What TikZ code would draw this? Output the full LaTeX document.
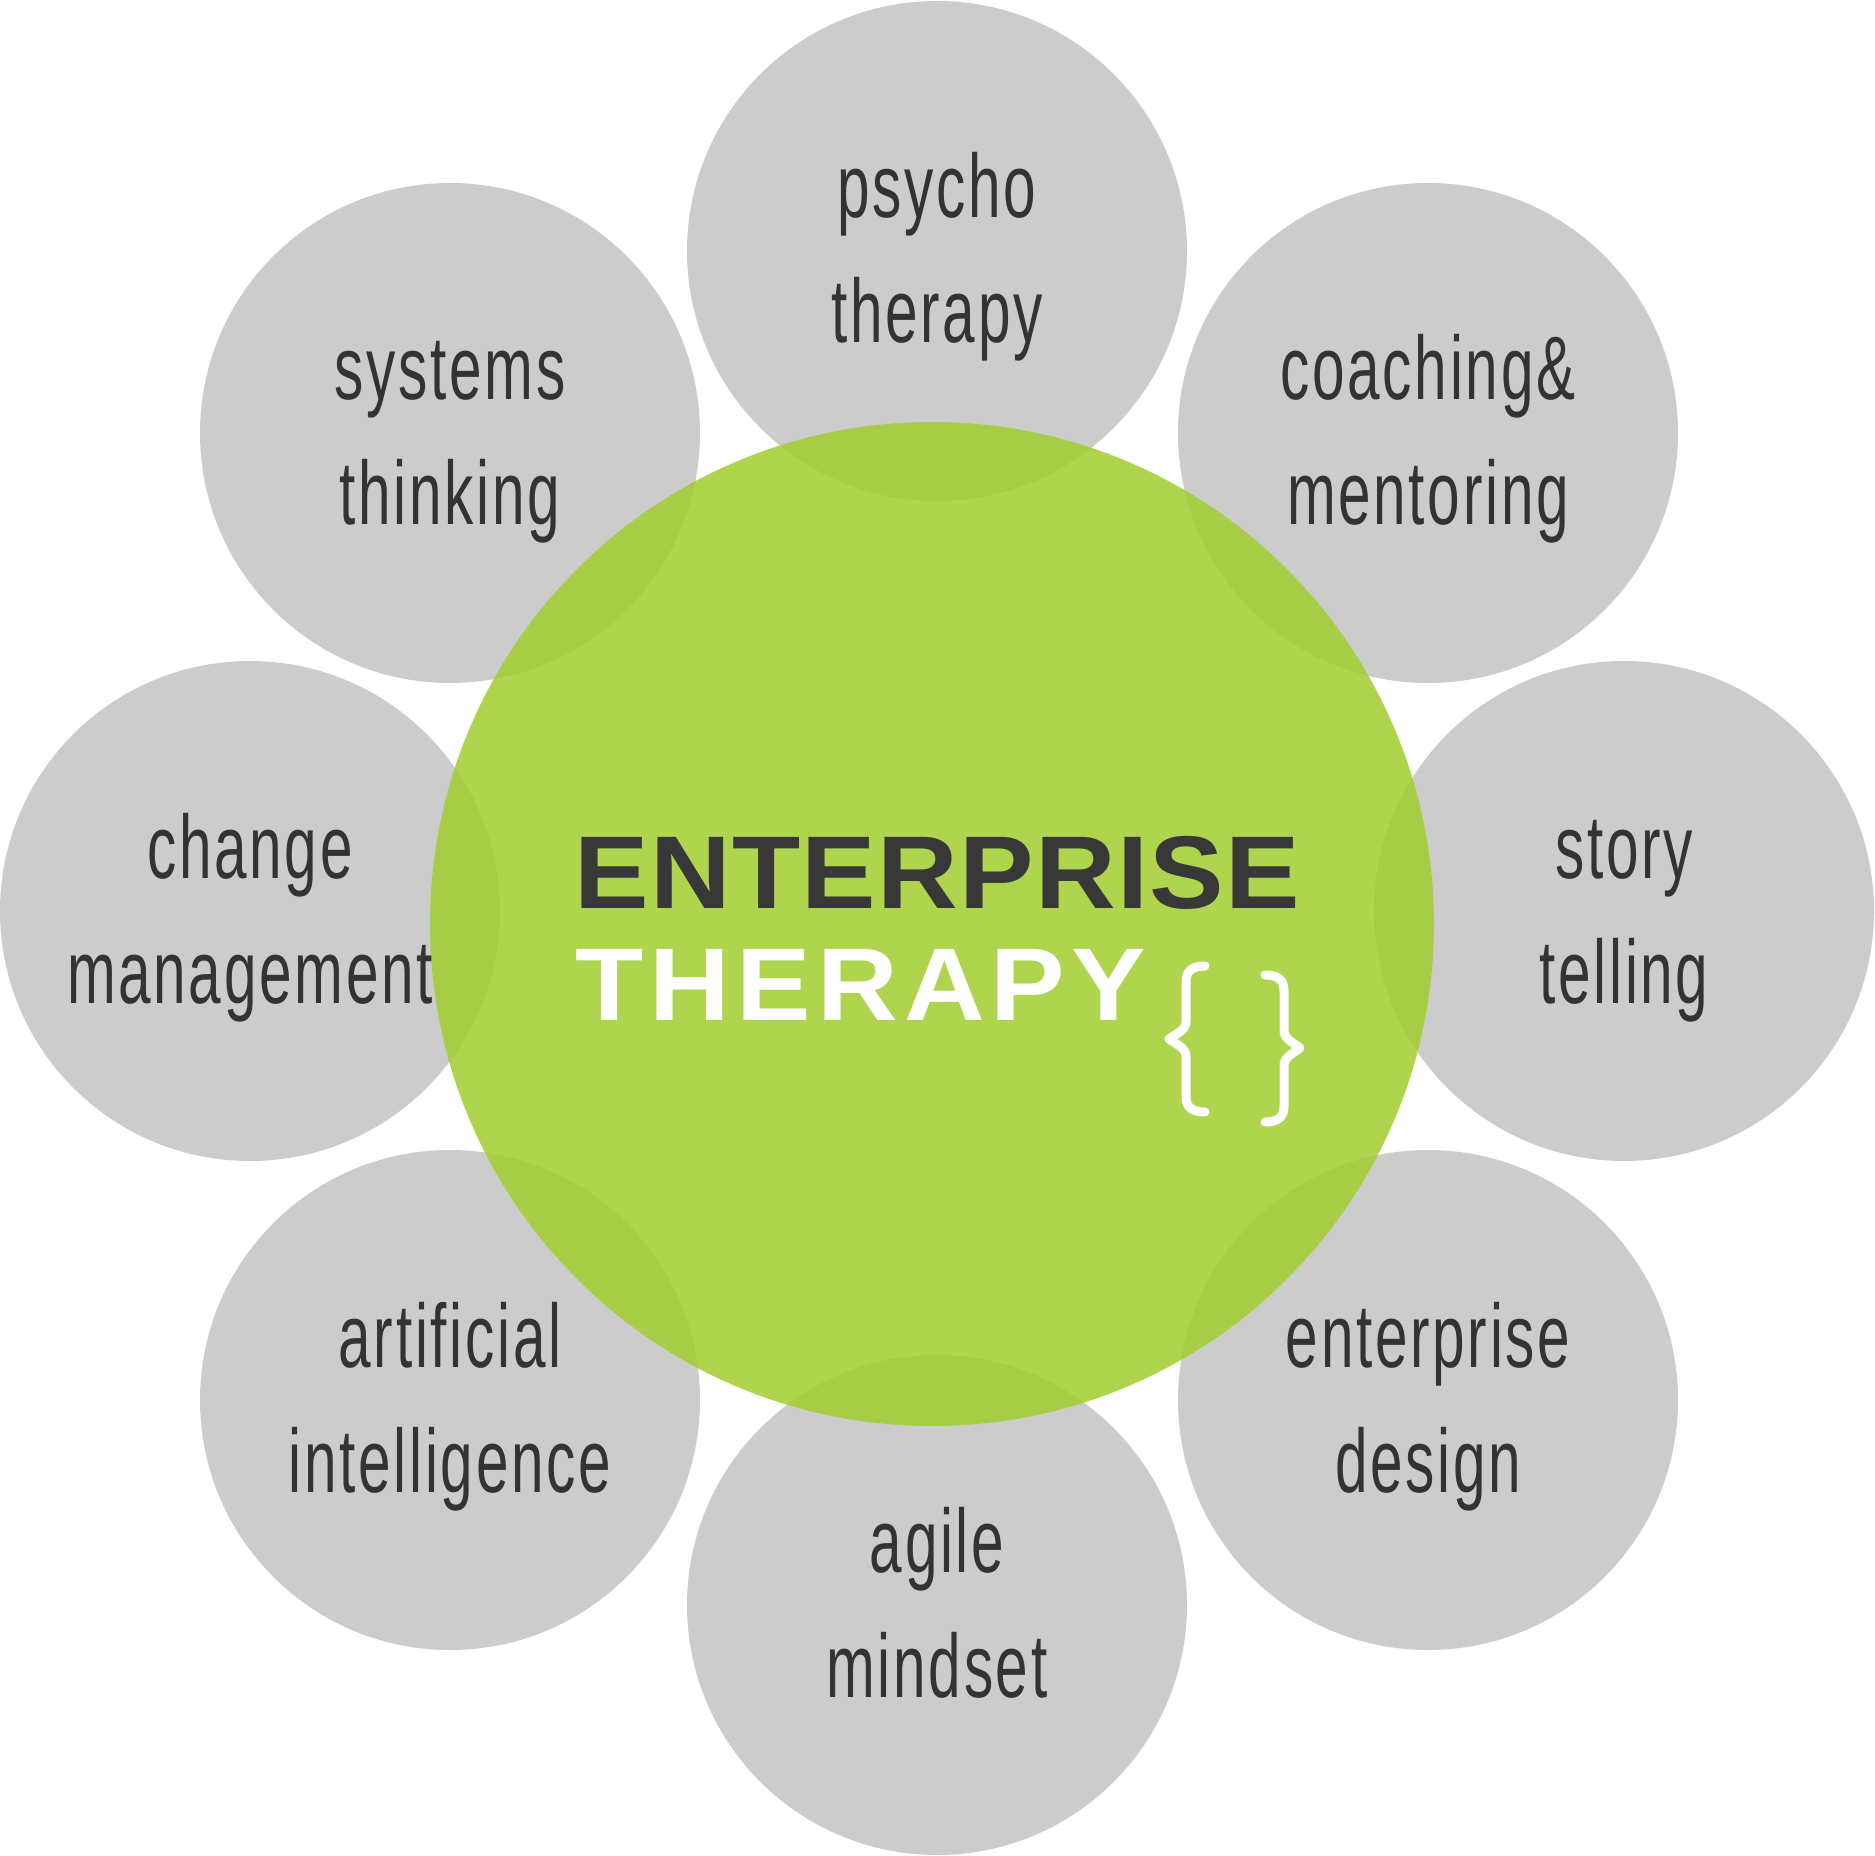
\documentclass[tikz,border=0pt]{standalone}
\usepackage{fontspec}
\setmainfont{Liberation Sans}
\newfontfamily\lblfont[FakeStretch=0.65,LetterSpace=3]{Liberation Sans}
\newfontfamily\ttlfontA[FakeStretch=1.08,LetterSpace=1.3]{Liberation Sans Bold}
\newfontfamily\ttlfontB[FakeStretch=1.08,LetterSpace=6]{Liberation Sans Bold}
\definecolor{cgray}{HTML}{CCCCCC}
\definecolor{cgreen}{RGB}{161,204,47}
\definecolor{ctext}{HTML}{333333}
\definecolor{ctitle}{HTML}{383838}
\tikzset{
  graycirc/.style={circle, fill=cgray, minimum size=250pt, inner sep=0pt},
  greencirc/.style={circle, fill=cgreen, fill opacity=0.85, minimum size=502pt, inner sep=0pt},
  lbl/.style={anchor=base, inner sep=0pt, text=ctext, font=\lblfont\fontsize{45pt}{54pt}\selectfont},
  ttl/.style={anchor=base west, inner sep=0pt},
  bracestroke/.style={draw=white, line width=4.5pt, line cap=round, line join=round}
}
\begin{document}
\begin{tikzpicture}[x=0.5pt, y=-0.5pt]
\useasboundingbox (0,0) rectangle (1875,1856);
\foreach \n/\x/\y in {psy/937/251, sys/450/433, coa/1428/433, chg/250/911, sto/1624/911, art/450/1400, edz/1428/1400, agi/937/1605}
  \node[graycirc] (\n) at (\x,\y) {};
\node[greencirc] (core) at (932,924) {};
\foreach \n/\a/\b in {psy/psycho/therapy, sys/systems/thinking, coa/coaching\&/mentoring, chg/change/management, sto/story/telling, art/artificial/intelligence, edz/enterprise/design, agi/agile/mindset}{
  \node[lbl] (\n-a) at ([yshift=16.5pt]\n.center) {\a};
  \node[lbl] (\n-b) at ([yshift=-46pt]\n.center) {\b};
}
\node[ttl, text=ctitle, font=\ttlfontA\fontsize{51.7pt}{60pt}\selectfont] (ttl1) at (574,908) {ENTERPRISE};
\node[ttl, text=white, font=\ttlfontB\fontsize{51.7pt}{60pt}\selectfont] (ttl2) at (575,1020) {THERAPY};
\draw[bracestroke] (1205,966) .. controls (1192,966) and (1186,971) .. (1186,982) -- (1186,1022)
  .. controls (1186,1030) and (1176,1034) .. (1169,1039)
  .. controls (1176,1044) and (1186,1048) .. (1186,1056) -- (1186,1097)
  .. controls (1186,1107) and (1192,1112) .. (1205,1112);
\draw[bracestroke] (1265,975) .. controls (1278,975) and (1284,980) .. (1284,991) -- (1284,1031)
  .. controls (1284,1039) and (1294,1043) .. (1300,1048)
  .. controls (1294,1053) and (1284,1057) .. (1284,1065) -- (1284,1106)
  .. controls (1284,1117) and (1278,1122) .. (1265,1122);
\end{tikzpicture}
\end{document}
